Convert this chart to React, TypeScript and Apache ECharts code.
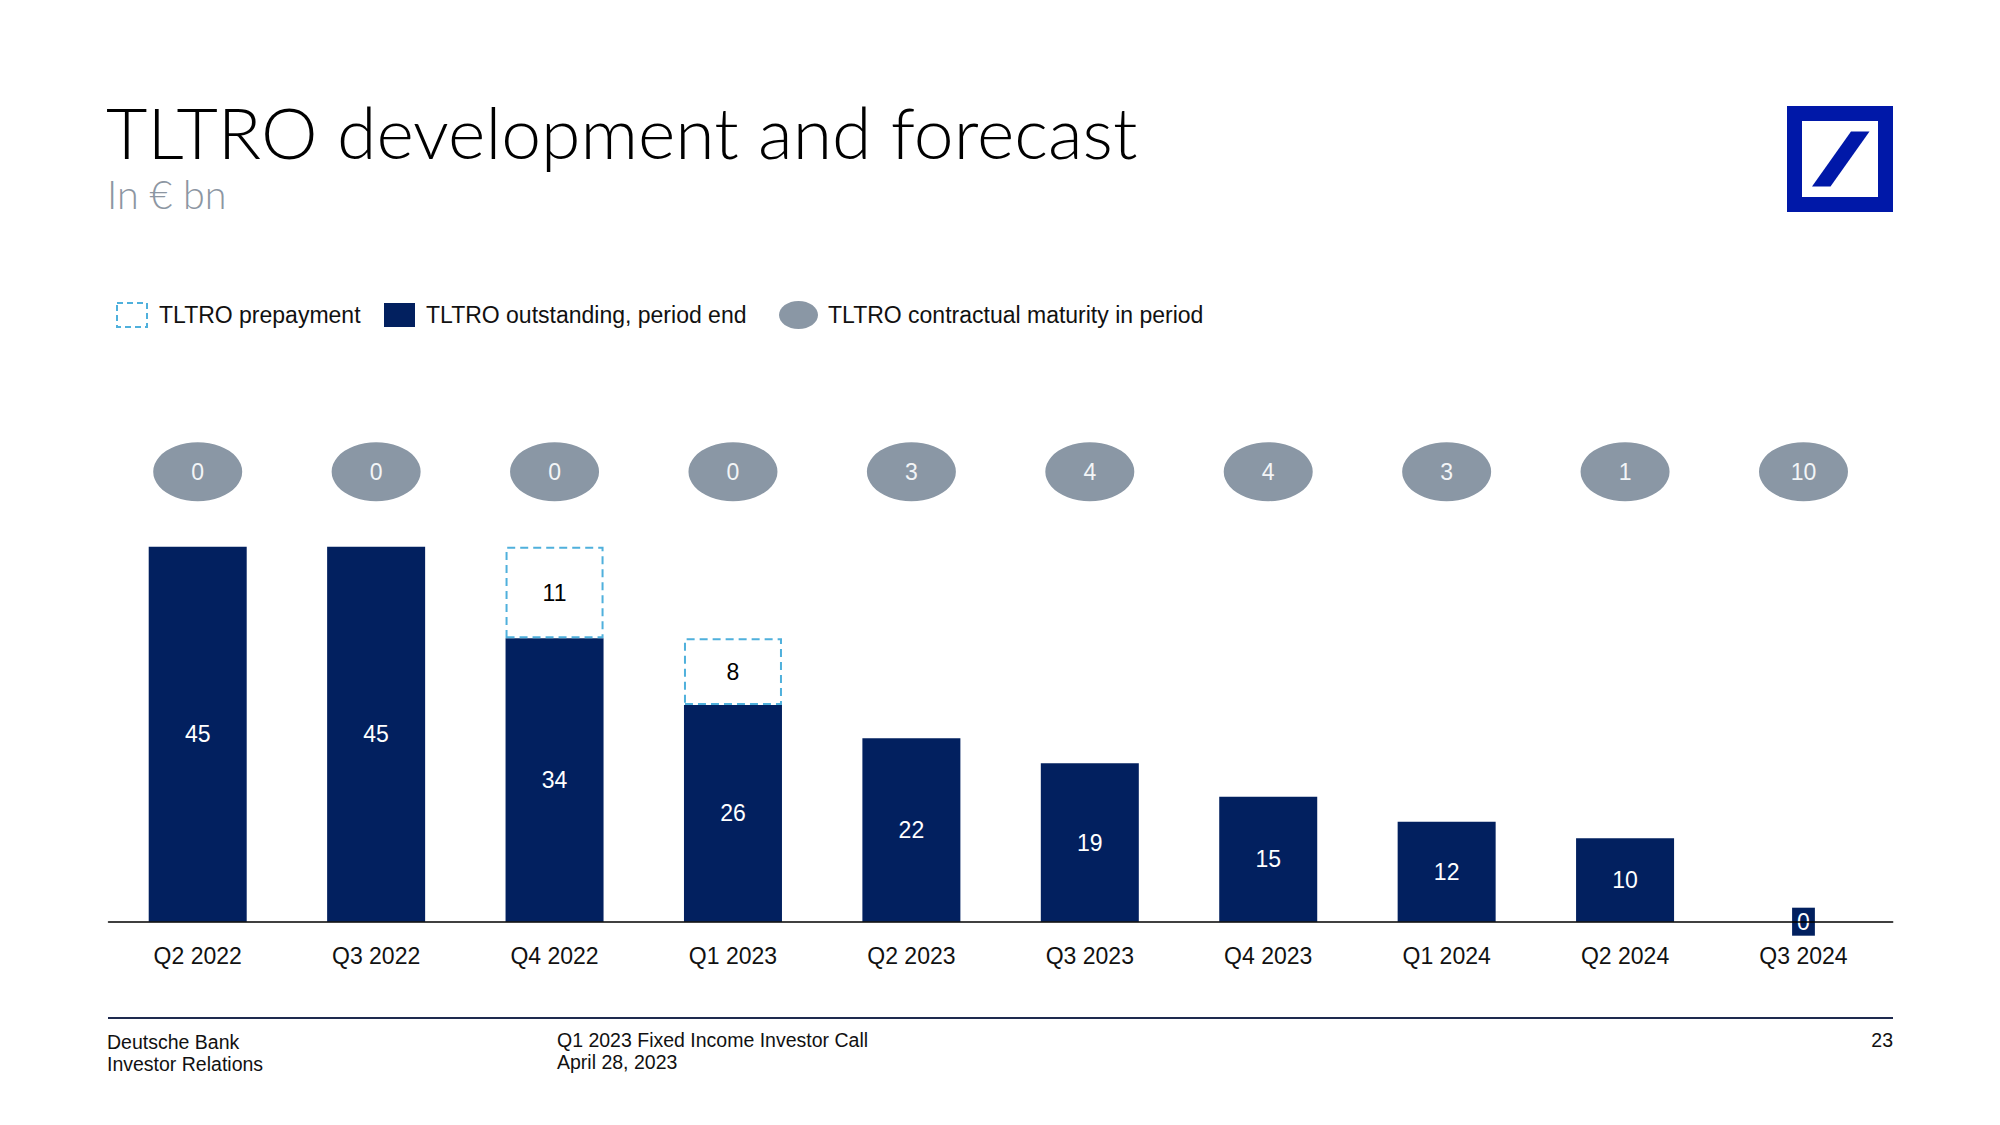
import React, { useEffect, useRef } from "react";
import * as echarts from "echarts";

// ---------- data ----------
const categories = [
  "Q2 2022", "Q3 2022", "Q4 2022", "Q1 2023", "Q2 2023",
  "Q3 2023", "Q4 2023", "Q1 2024", "Q2 2024", "Q3 2024",
];
const outstanding = [45, 45, 34, 26, 22, 19, 15, 12, 10, 0];
const prepayment: (number | null)[] = [null, null, 11, 8, null, null, null, null, null, null];
const maturity = [0, 0, 0, 0, 3, 4, 4, 3, 1, 10];
const legendLabels = [
  "TLTRO prepayment",
  "TLTRO outstanding, period end",
  "TLTRO contractual maturity in period",
];
const titleText = "TLTRO development and forecast";
const subtitleText = "In € bn";
const footerLeft = ["Deutsche Bank", "Investor Relations"];
const footerMid = ["Q1 2023 Fixed Income Investor Call", "April 28, 2023"];
const pageNumber = "23";

// ---------- style ----------
const NAVY = "#02205F";
const DASH_BLUE = "#4FB0DC";
const GREY = "#8A97A5";
const DB_BLUE = "#0018A8";
const FONT = "'Liberation Sans', Arial, sans-serif";
const HEAD_FONT = "Lato, 'Noto Sans', sans-serif";
const BUBBLE_ROW = 54; // vertical placement of maturity bubbles (axis units)

export default function App() {
  const ref = useRef<HTMLDivElement>(null);

  useEffect(() => {
    if (!ref.current) return;
    const chart = echarts.init(ref.current, null, { renderer: "svg" });

    const outstandingData = outstanding.map((v) =>
      v === 0
        ? {
            value: v,
            label: {
              show: true,
              position: "inside",
              backgroundColor: NAVY,
              padding: [3, 5, 2, 5],
              color: "#fff",
            },
          }
        : v
    );

    const footText = (text: string, x: number, y: number, align = "left") => ({
      type: "text",
      x,
      y,
      style: { text, fill: "#111", fontSize: 19.5, fontFamily: FONT, verticalAlign: "middle", align },
    });

    const option: any = {
      animation: false,
      backgroundColor: "#fff",
      grid: { left: 108.5, right: 107.3, top: 421.7, bottom: 203.3, containLabel: false },
      xAxis: {
        type: "category",
        data: categories,
        axisLine: { show: true, lineStyle: { color: "#000", width: 1.5 } },
        axisTick: { show: false },
        axisLabel: { fontSize: 23, color: "#111", margin: 23, fontFamily: FONT },
        z: 10,
      },
      yAxis: {
        type: "value",
        min: 0,
        max: 60,
        show: false,
        splitLine: { show: false },
      },
      series: [
        {
          name: legendLabels[1],
          type: "bar",
          stack: "t",
          barWidth: 98,
          data: outstandingData,
          itemStyle: { color: NAVY },
          label: {
            show: true,
            position: "inside",
            color: "#fff",
            fontSize: 23,
            fontFamily: FONT,
          },
          z: 2,
        },
        {
          name: legendLabels[0],
          type: "bar",
          stack: "t",
          barWidth: 98,
          data: prepayment.map((v) => (v === null ? "-" : v)),
          itemStyle: {
            color: "#fff",
            borderColor: DASH_BLUE,
            borderWidth: 2,
            borderType: [8, 5],
          },
          label: {
            show: true,
            position: "inside",
            color: "#000",
            fontSize: 23,
            fontFamily: FONT,
          },
          z: 3,
        },
        {
          name: legendLabels[2],
          type: "scatter",
          symbol: "circle",
          symbolSize: [89, 59],
          data: maturity.map((m, i) => [i, BUBBLE_ROW, m]),
          itemStyle: { color: GREY, opacity: 1 },
          label: {
            show: true,
            position: "inside",
            color: "#F3F5F7",
            fontSize: 23,
            fontFamily: FONT,
            formatter: (p: any) => String(p.value[2]),
          },
          z: 4,
        },
      ],
      graphic: [
        // title
        {
          type: "text",
          x: 106,
          y: 131,
          style: {
            text: titleText,
            fill: "#000",
            fontSize: 71.5,
            lineHeight: 71.5,
            fontWeight: 300,
            fontFamily: HEAD_FONT,
            verticalAlign: "middle",
          },
        },
        {
          type: "text",
          x: 107,
          y: 193.7,
          style: {
            text: subtitleText,
            fill: "#8C96A2",
            fontSize: 39.5,
            lineHeight: 39.5,
            fontWeight: 300,
            fontFamily: HEAD_FONT,
            verticalAlign: "middle",
          },
        },
        // logo
        { type: "rect", shape: { x: 1787, y: 106, width: 106, height: 106 }, style: { fill: DB_BLUE } },
        { type: "rect", shape: { x: 1802, y: 121, width: 76, height: 76 }, style: { fill: "#fff" } },
        {
          type: "polygon",
          shape: { points: [[1812, 186.5], [1830.5, 186.5], [1869.5, 131.5], [1851, 131.5]] },
          style: { fill: DB_BLUE },
        },
        // legend
        {
          type: "rect",
          shape: { x: 117, y: 303, width: 30, height: 24 },
          style: { fill: "#fff", stroke: DASH_BLUE, lineWidth: 2, lineDash: [6, 4] },
        },
        {
          type: "text",
          x: 159,
          y: 315,
          style: { text: legendLabels[0], fill: "#111", fontSize: 23, fontFamily: FONT, verticalAlign: "middle" },
        },
        {
          type: "rect",
          shape: { x: 384, y: 303, width: 31, height: 24 },
          style: { fill: NAVY },
        },
        {
          type: "text",
          x: 426,
          y: 315,
          style: { text: legendLabels[1], fill: "#111", fontSize: 23, fontFamily: FONT, verticalAlign: "middle" },
        },
        {
          type: "ellipse",
          shape: { cx: 798.5, cy: 315, rx: 19.5, ry: 14 },
          style: { fill: GREY },
        },
        {
          type: "text",
          x: 828,
          y: 315,
          style: { text: legendLabels[2], fill: "#111", fontSize: 23, fontFamily: FONT, verticalAlign: "middle" },
        },
        // footer
        {
          type: "line",
          shape: { x1: 108, y1: 1018, x2: 1893, y2: 1018 },
          style: { stroke: "#1E2A4F", lineWidth: 2 },
        },
        footText(footerLeft[0], 107, 1042),
        footText(footerLeft[1], 107, 1064),
        footText(footerMid[0], 557, 1040),
        footText(footerMid[1], 557, 1062),
        footText(pageNumber, 1893, 1040, "right"),
      ],
    };

    chart.setOption(option);
    return () => chart.dispose();
  }, []);

  return (
    <div
      ref={ref}
      style={{ position: "fixed", left: 0, top: 0, width: 2000, height: 1125, background: "#fff" }}
    />
  );
}
